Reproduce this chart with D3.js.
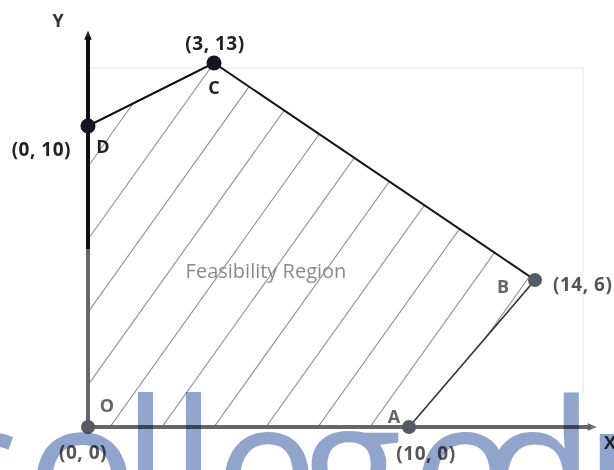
<!DOCTYPE html>
<html>
<head>
<meta charset="utf-8">
<script src="https://cdn.jsdelivr.net/npm/d3@7"></script>
<style>
  body { margin: 0; background: #fff; }
  svg { display: block; font-family: 'Open Sans', sans-serif; }
</style>
</head>
<body>
<div id="chart"></div>
<script>
// corner points of the feasible region
var pointNames = ['O', 'A', 'B', 'C', 'D']
var pointX = [0, 10, 14, 3, 0]
var pointY = [0, 0, 6, 13, 10]
var coordLabels = ['(0, 0)', '(10, 0)', '(14, 6)', '(3, 13)', '(0, 10)']

// the sketch is not drawn to scale, so the scales are piecewise
var xBreaks = [0, 3, 10, 14]
var yBreaks = [0, 6, 10, 13]
var xAxisEnd = 15.8
var yAxisEnd = 14.3
var yAxisDarkFrom = 6.8

var axisLabels = ['X', 'Y']
var regionLabel = 'Feasibility Region'
var watermark = 'collegedunia'

var width = 614
var height = 470

var svg = d3.select('#chart')
  .append('svg')
  .attr('width', width)
  .attr('height', height)

var xPositionScale = d3.scaleLinear().domain(xBreaks).range([88, 214, 409, 535])
var yPositionScale = d3.scaleLinear().domain(yBreaks).range([427, 280, 126, 63])

var points = pointNames.map((name, i) => {
  return { name: name, x: pointX[i], y: pointY[i], label: coordLabels[i] }
})

// faint frame left over in the picture
svg.append('path')
  .attr('d', `M${xPositionScale(0)},68 H583 V395`)
  .attr('fill', 'none')
  .attr('stroke', '#efefef')
  .attr('stroke-width', 1.5)

// clip the hatching to the region
svg.append('clipPath')
  .attr('id', 'region')
  .append('polygon')
  .attr('points', points.map(d => [xPositionScale(d.x), yPositionScale(d.y)].join(',')).join(' '))

// hatch lines, spaced in pixels along the x axis
var slope = 1.4
var base = yPositionScale(0)
var hatch = d3.range(-11, 4).map(k => 370 + k * 52)
svg.append('g')
  .attr('clip-path', 'url(#region)')
  .selectAll('line')
  .data(hatch)
  .enter().append('line')
  .attr('x1', d => d - 100)
  .attr('y1', base + 100 * slope)
  .attr('x2', d => d + 400)
  .attr('y2', base - 400 * slope)
  .attr('stroke', '#909090')
  .attr('stroke-width', 1.1)

svg.append('text')
  .text(regionLabel)
  .attr('x', 266)
  .attr('y', 270)
  .attr('text-anchor', 'middle')
  .attr('dominant-baseline', 'central')
  .attr('font-size', 20)
  .attr('fill', '#8a8a8a')

// axes
var x0 = xPositionScale(0)
var y0 = yPositionScale(0)
svg.append('line')
  .attr('x1', x0).attr('x2', xPositionScale(xAxisEnd))
  .attr('y1', y0).attr('y2', y0)
  .attr('stroke', '#666').attr('stroke-width', 4)
svg.append('path')
  .attr('d', `M${xPositionScale(xAxisEnd) - 4},${y0 - 3} L${xPositionScale(xAxisEnd) + 3},${y0} L${xPositionScale(xAxisEnd) - 4},${y0 + 3}`)
  .attr('fill', 'none').attr('stroke', '#666').attr('stroke-width', 1.5)

svg.append('line')
  .attr('x1', x0).attr('x2', x0)
  .attr('y1', y0).attr('y2', yPositionScale(yAxisDarkFrom))
  .attr('stroke', '#666').attr('stroke-width', 4)
svg.append('line')
  .attr('x1', x0).attr('x2', x0)
  .attr('y1', yPositionScale(yAxisDarkFrom)).attr('y2', yPositionScale(yAxisEnd))
  .attr('stroke', '#111').attr('stroke-width', 4)
svg.append('path')
  .attr('d', `M${x0 - 3},${yPositionScale(yAxisEnd) + 4} L${x0},${yPositionScale(yAxisEnd) - 3} L${x0 + 3},${yPositionScale(yAxisEnd) + 4}`)
  .attr('fill', 'none').attr('stroke', '#111').attr('stroke-width', 1.5)

svg.append('text')
  .text(axisLabels[0])
  .attr('x', 604).attr('y', 442)
  .attr('dominant-baseline', 'central')
  .attr('font-size', 18).attr('font-weight', 'bold')
  .attr('fill', '#333')
svg.append('text')
  .text(axisLabels[1])
  .attr('x', 58).attr('y', 20)
  .attr('text-anchor', 'middle')
  .attr('dominant-baseline', 'central')
  .attr('font-size', 18).attr('font-weight', 'bold')
  .attr('fill', '#333')

// edges D-C-B and B-A
var line = d3.line()
  .x(d => xPositionScale(d.x))
  .y(d => yPositionScale(d.y))

svg.append('path')
  .attr('d', line([points[4], points[3], points[2]]))
  .attr('fill', 'none')
  .attr('stroke', '#151515')
  .attr('stroke-width', 2)
svg.append('path')
  .attr('d', line([points[2], points[1]]))
  .attr('fill', 'none')
  .attr('stroke', '#333')
  .attr('stroke-width', 1.6)

// dots and labels
var dark = { C: true, D: true }
var nameOffset = { O: [19, -22], A: [-15, -11], B: [-32, 6], C: [0, 24], D: [15, 20] }
var coordOffset = { O: [-5, 25, 'middle'], A: [17, 26, 'middle'], B: [18, 4, 'start'], C: [1, -20, 'middle'], D: [-17, 23, 'end'] }

svg.selectAll('.dot')
  .data(points)
  .enter().append('circle')
  .attr('class', 'dot')
  .attr('cx', d => xPositionScale(d.x))
  .attr('cy', d => yPositionScale(d.y))
  .attr('r', d => dark[d.name] ? 7.5 : 7)
  .attr('fill', d => dark[d.name] ? '#121522' : '#555a63')

svg.selectAll('.name')
  .data(points)
  .enter().append('text')
  .attr('class', 'name')
  .text(d => d.name)
  .attr('x', d => xPositionScale(d.x) + nameOffset[d.name][0])
  .attr('y', d => yPositionScale(d.y) + nameOffset[d.name][1])
  .attr('text-anchor', 'middle')
  .attr('dominant-baseline', 'central')
  .attr('font-size', 18)
  .attr('font-weight', 'bold')
  .attr('fill', d => dark[d.name] ? '#222' : '#666')

svg.selectAll('.coord')
  .data(points)
  .enter().append('text')
  .attr('class', 'coord')
  .text(d => d.label)
  .attr('x', d => xPositionScale(d.x) + coordOffset[d.name][0])
  .attr('y', d => yPositionScale(d.y) + coordOffset[d.name][1])
  .attr('text-anchor', d => coordOffset[d.name][2])
  .attr('dominant-baseline', 'central')
  .attr('font-size', 19)
  .attr('font-weight', 'bold')
  .attr('letter-spacing', 0.5)
  .attr('fill', d => dark[d.name] ? '#222' : '#555')

// watermark across the bottom
var letterX = [-70, 26, 122, 170, 214, 301, 411, 481, 585, 700, 815, 870]
svg.append('text')
  .text(watermark)
  .attr('x', letterX.join(' '))
  .attr('y', 533)
  .attr('font-size', 186)
  .attr('fill', 'rgb(145, 164, 204)')
  .style('mix-blend-mode', 'multiply')
</script>
</body>
</html>
